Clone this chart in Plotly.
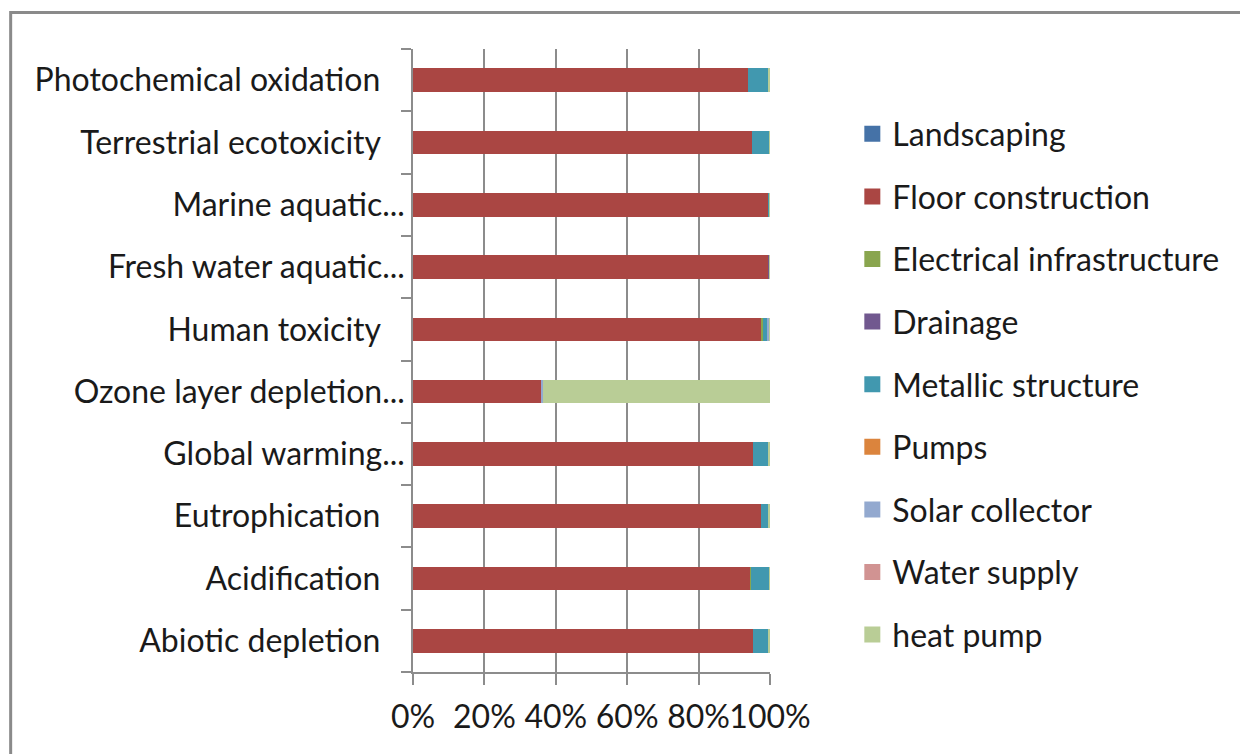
import plotly.graph_objects as go

# Impact categories, listed bottom to top as they appear on the axis
categories = [
    "Abiotic depletion",
    "Acidification",
    "Eutrophication",
    "Global warming...",
    "Ozone layer depletion...",
    "Human toxicity",
    "Fresh water aquatic...",
    "Marine aquatic...",
    "Terrestrial ecotoxicity",
    "Photochemical oxidation",
]

# Share of each building component per impact category (%)
landscaping = [0.0, 0.0, 0.0, 0.0, 0.0, 0.0, 0.0, 0.0, 0.0, 0.0]
floor_construction = [95.3, 94.4, 97.6, 95.3, 36.1, 97.5, 99.7, 99.5, 94.9, 93.9]
electrical_infrastructure = [0.0, 0.4, 0.0, 0.0, 0.0, 0.5, 0.0, 0.0, 0.0, 0.0]
drainage = [0.0, 0.0, 0.0, 0.0, 0.0, 0.0, 0.2, 0.0, 0.0, 0.0]
metallic_structure = [4.3, 5.0, 2.0, 4.3, 0.0, 1.3, 0.0, 0.3, 4.9, 5.6]
pumps = [0.0, 0.0, 0.0, 0.0, 0.0, 0.0, 0.0, 0.0, 0.0, 0.0]
solar_collector = [0.0, 0.0, 0.0, 0.0, 0.4, 0.5, 0.0, 0.0, 0.0, 0.0]
water_supply = [0.0, 0.0, 0.0, 0.0, 0.0, 0.0, 0.0, 0.0, 0.0, 0.0]
heat_pump = [0.4, 0.2, 0.4, 0.4, 63.5, 0.2, 0.1, 0.2, 0.2, 0.5]

series = [
    ("Landscaping", landscaping, "#4572A7"),
    ("Floor construction", floor_construction, "#AA4643"),
    ("Electrical infrastructure", electrical_infrastructure, "#89A54E"),
    ("Drainage", drainage, "#71588F"),
    ("Metallic structure", metallic_structure, "#4198AF"),
    ("Pumps", pumps, "#DB843D"),
    ("Solar collector", solar_collector, "#93A9CF"),
    ("Water supply", water_supply, "#D19392"),
    ("heat pump", heat_pump, "#B9CD96"),
]

x_ticks = [0, 20, 40, 60, 80, 100]
x_tick_labels = ["0%", "20%", "40%", "60%", "80%", "100%"]

FONT = "Lato"
FONT_SIZE = 32
TEXT = "#1a1a1a"
GRID = "#8c8c8c"

# Full labels carry a little trailing space; truncated ones run up to the ticks
y_tick_text = [c if c.endswith("...") else c + "\u00a0" * 3 for c in categories]

fig = go.Figure()
for i, (name, values, color) in enumerate(series):
    fig.add_trace(go.Bar(
        y=categories,
        x=values,
        name=name,
        orientation="h",
        marker=dict(color=color, line=dict(width=0)),
        legendgroup=f"g{i}",
        showlegend=False,
    ))
    # Legend entry with a larger square swatch, tied to the bar series
    fig.add_trace(go.Scatter(
        x=[None], y=[None],
        mode="markers",
        name=name,
        marker=dict(symbol="square", size=16, color=color),
        legendgroup=f"g{i}",
        showlegend=True,
        hoverinfo="skip",
    ))

# Chart frame around the whole figure
fig.add_shape(
    type="rect", xref="paper", yref="paper",
    x0=-1.127, x1=3.0, y0=-1.0, y1=1.0586,
    line=dict(color="#8a8a8a", width=3),
    layer="above",
)

fig.update_layout(
    barmode="stack",
    bargap=0.62,
    width=1240,
    height=754,
    margin=dict(l=413, r=470, t=49, b=82),
    paper_bgcolor="white",
    plot_bgcolor="white",
    font=dict(family=FONT, size=FONT_SIZE, color=TEXT),
    showlegend=True,
    legend=dict(
        x=1.2306, xanchor="left",
        y=0.4615, yanchor="middle",
        traceorder="grouped",
        tracegroupgap=18,
        itemsizing="trace",
        font=dict(family=FONT, size=FONT_SIZE, color=TEXT),
        itemwidth=30,
    ),
    xaxis=dict(
        range=[0, 100],
        tickvals=x_ticks,
        ticktext=x_tick_labels,
        tickangle=0,
        ticklabelstandoff=5,
        automargin=False,
        showgrid=True,
        gridcolor=GRID,
        gridwidth=1.5,
        showline=True,
        linecolor=GRID,
        linewidth=1.5,
        ticks="outside",
        ticklen=11,
        tickcolor=GRID,
        tickwidth=1.5,
        zeroline=False,
        fixedrange=True,
    ),
    yaxis=dict(
        tickvals=categories,
        ticktext=y_tick_text,
        automargin=False,
        showline=True,
        linecolor=GRID,
        linewidth=1.5,
        ticks="outside",
        ticklen=10,
        tickcolor=GRID,
        tickwidth=1.5,
        tickson="boundaries",
        showgrid=False,
        fixedrange=True,
    ),
)

fig.write_html("out.html")
